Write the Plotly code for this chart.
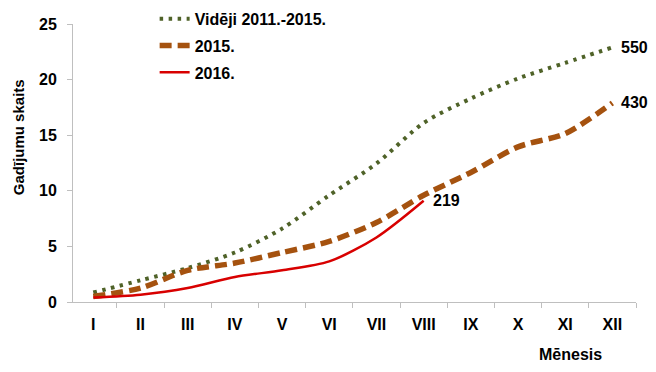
import plotly.graph_objects as go

months = ["I", "II", "III", "IV", "V", "VI", "VII", "VIII", "IX", "X", "XI", "XII"]
avg_2011_2015 = [0.85, 1.95, 3.05, 4.45, 6.6, 9.6, 12.45, 16.1, 18.3, 20.1, 21.5, 22.9]
cases_2015 = [0.5, 1.25, 2.85, 3.5, 4.45, 5.45, 7.15, 9.6, 11.65, 13.95, 15.15, 17.9]
cases_2016 = [0.4, 0.65, 1.25, 2.25, 2.85, 3.65, 5.8, 9.1]
series_names = ["Vidēji 2011.-2015.", "2015.", "2016."]
end_totals = [550, 430, 219]
y_ticks = [0, 5, 10, 15, 20, 25]

FONT = "Liberation Sans, Arial, sans-serif"
GREEN = "#4F6228"
BROWN = "#A5520F"
RED = "#D80000"
AXIS = "#BFBFBF"

fig = go.Figure()
fig.add_trace(go.Scatter(
    x=months, y=avg_2011_2015, name=series_names[0], mode="lines",
    line=dict(color=GREEN, width=4, dash="3.5px,5.5px", shape="spline", smoothing=0.8),
    legendgroup="a"))
fig.add_trace(go.Scatter(
    x=months, y=cases_2015, name=series_names[1], mode="lines",
    line=dict(color=BROWN, width=5.5, dash="12px,6px", shape="spline", smoothing=0.8),
    legendgroup="b"))
fig.add_trace(go.Scatter(
    x=months[:len(cases_2016)], y=cases_2016, name=series_names[2], mode="lines",
    line=dict(color=RED, width=2.5, shape="spline", smoothing=0.8),
    legendgroup="c"))

# end-value labels
series_data = [avg_2011_2015, cases_2015, cases_2016]
for vals, total in zip(series_data, end_totals):
    fig.add_annotation(x=months[len(vals) - 1], y=vals[-1], text=str(total),
                       showarrow=False, xanchor="left", yanchor="middle", xshift=7,
                       font=dict(family=FONT, size=16, color="black", weight="bold"))

# axis titles
fig.add_annotation(xref="paper", yref="paper", x=-0.0953, y=0.594, text="<b>Gadījumu skaits</b>",
                   textangle=-90, showarrow=False, xanchor="center", yanchor="middle",
                   font=dict(family=FONT, size=15, color="black"))
fig.add_annotation(xref="paper", yref="paper", x=0.883, y=-0.189, text="<b>Mēnesis</b>",
                   showarrow=False, xanchor="center", yanchor="middle",
                   font=dict(family=FONT, size=16, color="black"))

fig.update_layout(
    width=656, height=372,
    margin=dict(l=72.7, r=20, t=24, b=69.7, autoexpand=False),
    paper_bgcolor="white", plot_bgcolor="white",
    font=dict(family=FONT, size=16, color="black", weight="bold"),
    showlegend=True,
    legend=dict(x=0.145, y=1.08, xanchor="left", yanchor="top",
                bgcolor="rgba(0,0,0,0)", tracegroupgap=3,
                font=dict(family=FONT, size=16, color="black", weight="bold"),
                itemwidth=30),
)
fig.update_xaxes(
    type="category", range=[-0.43, 11.5], showgrid=False, zeroline=False,
    showline=True, linecolor=AXIS, linewidth=1,
    ticks="outside", tickson="boundaries", ticklen=5, tickcolor=AXIS,
    ticklabelstandoff=8, tickfont=dict(family=FONT, size=16, color="black", weight="bold"),
)
fig.update_yaxes(
    range=[0, 25], tickvals=y_ticks, showgrid=False, zeroline=False,
    showline=True, linecolor=AXIS, linewidth=1,
    ticks="outside", ticklen=5, tickcolor=AXIS,
    ticklabelstandoff=7, tickfont=dict(family=FONT, size=16, color="black", weight="bold"),
)

fig.write_html("out.html", config={"displayModeBar": False},
               post_script="document.body.style.margin='0';document.body.style.padding='0';")
